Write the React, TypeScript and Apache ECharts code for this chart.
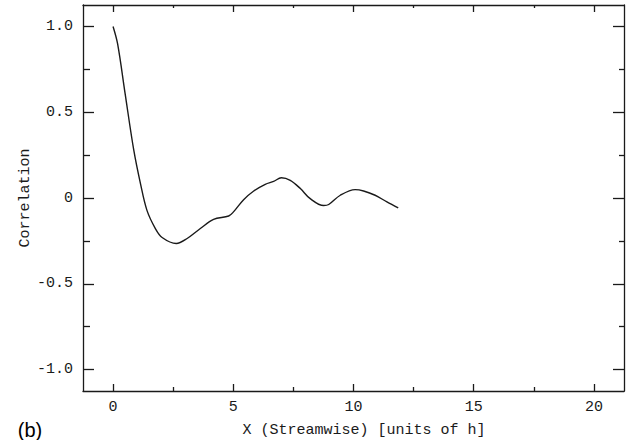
import React, { useEffect, useRef } from "react";
import * as echarts from "echarts";

const xValues = [0, 0.19, 0.5, 0.86, 1.14, 1.41, 1.76, 2.04, 2.63, 3.08, 3.63, 4.18, 4.81, 5.01, 5.43, 5.85, 6.33, 6.68, 7.0, 7.37, 7.79, 8.2, 8.76, 8.97, 9.45, 10.07, 10.42, 10.9, 11.39, 11.86];
const yValues = [1.0, 0.898, 0.61, 0.28, 0.084, -0.072, -0.178, -0.23, -0.265, -0.236, -0.178, -0.124, -0.105, -0.081, -0.01, 0.041, 0.08, 0.097, 0.118, 0.103, 0.055, -0.004, -0.044, -0.038, 0.016, 0.049, 0.041, 0.016, -0.023, -0.058];

const xMajor = [0, 5, 10, 15, 20];
const xMinor = [2.5, 7.5, 12.5, 17.5];
const yMajor = [-1.0, -0.5, 0, 0.5, 1.0];
const yMinor = [-0.75, -0.25, 0.25, 0.75];

const X_MIN = -1.25, X_MAX = 21.25, Y_MIN = -1.125, Y_MAX = 1.125;
const FONT = "Liberation Mono";
const INK = "#1a1a1a";

export default function App() {
  const ref = useRef<HTMLDivElement>(null);
  useEffect(() => {
    if (!ref.current) return;
    const chart = echarts.init(ref.current, null, { renderer: "svg" });
    const lineStyle = { color: INK, width: 1.3 };
    const xAx = (pos: string, ticks: number[], len: number, showLabel: boolean, showLine: boolean) => ({
      type: "value", position: pos, min: X_MIN, max: X_MAX,
      axisLine: { show: showLine, onZero: false, lineStyle },
      axisTick: { show: true, inside: true, length: len, customValues: ticks, lineStyle },
      axisLabel: showLabel ? { show: true, customValues: ticks, fontFamily: FONT, fontSize: 15, color: INK, margin: 9 } : { show: false },
      splitLine: { show: false },
    });
    const yAx = (pos: string, ticks: number[], len: number, showLabel: boolean, showLine: boolean, name?: string) => ({
      type: "value", position: pos, min: Y_MIN, max: Y_MAX,
      name: name || "", nameLocation: "middle", nameGap: 50, nameMoveOverlap: false,
      nameTextStyle: { fontFamily: FONT, fontSize: 15, color: INK },
      axisLine: { show: showLine, onZero: false, lineStyle },
      axisTick: { show: true, inside: true, length: len, customValues: ticks, lineStyle },
      axisLabel: showLabel ? {
        show: true, customValues: ticks, fontFamily: FONT, fontSize: 15, color: INK, margin: 10,
        formatter: (v: number) => (v === 0 ? "0" : v.toFixed(1)),
      } : { show: false },
      splitLine: { show: false },
    });
    chart.setOption({
      animation: false,
      backgroundColor: "#ffffff",
      grid: { left: 83, top: 5, right: 8, bottom: 49, containLabel: false },
      xAxis: [
        xAx("bottom", xMajor, 7, true, true),
        xAx("bottom", xMinor, 4, false, false),
        xAx("top", xMajor, 7, false, true),
        xAx("top", xMinor, 3, false, false),
      ],
      yAxis: [
        yAx("left", yMajor, 11, true, true, "Correlation"),
        yAx("left", yMinor, 7, false, false),
        yAx("right", yMajor, 11, false, true),
        yAx("right", yMinor, 5, false, false),
      ],
      series: [{
        type: "line", xAxisIndex: 0, yAxisIndex: 0, smooth: 0.35, showSymbol: false,
        lineStyle: { color: INK, width: 1.4 },
        data: xValues.map((x, i) => [x, yValues[i]]),
      }],
      graphic: [
        { type: "text", x: 364, y: 430, style: { text: "X (Streamwise) [units of h]", fontFamily: FONT, fontSize: 15, fill: INK, align: "center", verticalAlign: "middle" } },
        { type: "text", x: 30, y: 430, style: { text: "(b)", fontFamily: "Liberation Sans", fontSize: 20, fill: "#000", align: "center", verticalAlign: "middle" } },
      ],
    });
    return () => chart.dispose();
  }, []);
  return <div ref={ref} style={{ position: "fixed", left: 0, top: 0, width: 632, height: 440 }} />;
}
